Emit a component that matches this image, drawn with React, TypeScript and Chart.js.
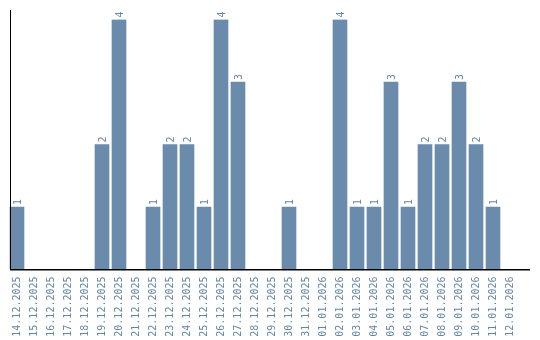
import React, { useEffect, useRef } from "react";
import { Chart, registerables } from "chart.js";

Chart.register(...registerables);

const categories = [
  "14.12.2025", "15.12.2025", "16.12.2025", "17.12.2025", "18.12.2025",
  "19.12.2025", "20.12.2025", "21.12.2025", "22.12.2025", "23.12.2025",
  "24.12.2025", "25.12.2025", "26.12.2025", "27.12.2025", "28.12.2025",
  "29.12.2025", "30.12.2025", "31.12.2025", "01.01.2026", "02.01.2026",
  "03.01.2026", "04.01.2026", "05.01.2026", "06.01.2026", "07.01.2026",
  "08.01.2026", "09.01.2026", "10.01.2026", "11.01.2026", "12.01.2026",
];

const values = [
  1, 0, 0, 0, 0,
  2, 4, 0, 1, 2,
  2, 1, 4, 3, 0,
  0, 1, 0, 0, 4,
  1, 1, 3, 1, 2,
  2, 3, 2, 1, 0,
];

const BAR_COLOR = "#6a8bab";
const TEXT_COLOR = "#6585a5";
const FONT = "DejaVu Sans Mono";

const axisLinesPlugin = {
  id: "axisLines",
  afterDraw(chart: any) {
    const ctx = chart.ctx;
    const area = chart.chartArea;
    ctx.save();
    ctx.fillStyle = "#000000";
    // y axis line
    ctx.fillRect(10, 10, 1, Math.round(area.bottom) - 10);
    // x axis line
    ctx.fillRect(10, Math.round(area.bottom) - 1, 520, 1.5);
    ctx.restore();
  },
};

const valueLabelsPlugin = {
  id: "valueLabels",
  afterDatasetsDraw(chart: any) {
    const ctx = chart.ctx;
    const meta = chart.getDatasetMeta(0);
    const data = chart.data.datasets[0].data as number[];
    ctx.save();
    ctx.fillStyle = TEXT_COLOR;
    ctx.font = `10px "${FONT}"`;
    ctx.textAlign = "left";
    ctx.textBaseline = "middle";
    meta.data.forEach((bar: any, i: number) => {
      const v = data[i];
      if (!v) return;
      ctx.save();
      ctx.translate(bar.x + 1, bar.y - 2);
      ctx.rotate(-Math.PI / 2);
      ctx.fillText(String(v), 0, 0);
      ctx.restore();
    });
    ctx.restore();
  },
};

export default function App() {
  const canvasRef = useRef<HTMLCanvasElement | null>(null);

  useEffect(() => {
    if (!canvasRef.current) return;
    const chart = new Chart(canvasRef.current, {
      type: "bar",
      data: {
        labels: categories,
        datasets: [
          {
            data: values,
            backgroundColor: BAR_COLOR,
            borderWidth: 0,
            barThickness: 14,
          },
        ],
      },
      options: {
        animation: false,
        responsive: false,
        devicePixelRatio: 1,
        layout: { padding: { top: 19.5, left: 8.5, right: 21.5, bottom: 0 } },
        plugins: {
          legend: { display: false },
          tooltip: { enabled: false },
        },
        scales: {
          y: {
            display: false,
            min: 0,
            max: 4,
          },
          x: {
            grid: { display: false, drawTicks: false },
            border: { display: false },
            ticks: {
              autoSkip: false,
              minRotation: 90,
              maxRotation: 90,
              padding: 7,
              color: TEXT_COLOR,
              font: { family: FONT, size: 10 },
            },
            afterFit(scale: any) {
              scale.height = 70.5;
              scale.paddingLeft = 0;
              scale.paddingRight = 0;
            },
          },
        },
      },
      plugins: [axisLinesPlugin, valueLabelsPlugin],
    });
    return () => chart.destroy();
  }, []);

  return (
    <div style={{ position: "fixed", left: 0, top: 0, width: 540, height: 340, background: "#fff" }}>
      <canvas ref={canvasRef} width={540} height={340} />
    </div>
  );
}
